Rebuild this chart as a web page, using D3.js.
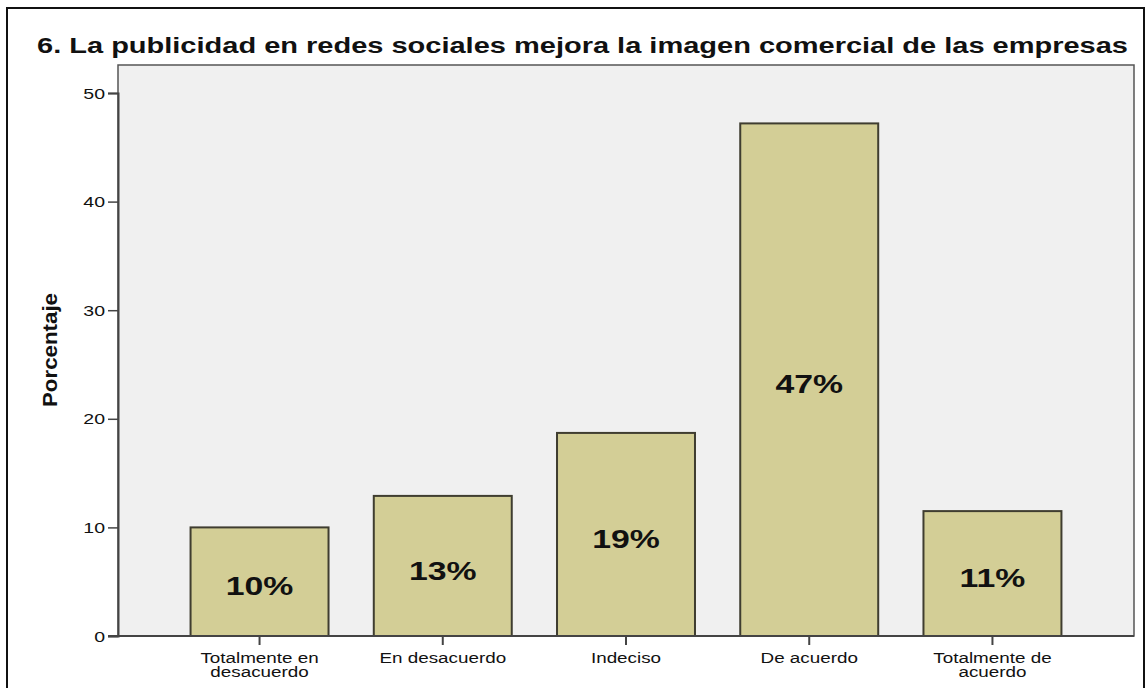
<!DOCTYPE html>
<html>
<head>
<meta charset="utf-8">
<script src="https://cdn.jsdelivr.net/npm/d3@7"></script>
<style>
  html, body { margin: 0; padding: 0; background: #ffffff; }
  svg { display: block; }
  text { font-family: "Liberation Sans", Arial, sans-serif; fill: #111; }
</style>
</head>
<body>
<script>
// Survey responses, percentage per answer
const categories = [
  ["Totalmente en", "desacuerdo"],
  ["En desacuerdo"],
  ["Indeciso"],
  ["De acuerdo"],
  ["Totalmente de", "acuerdo"]
];
const percentages = [10.0, 12.9, 18.7, 47.2, 11.5];
const valueLabels = ["10%", "13%", "19%", "47%", "11%"];
const yTicks = [0, 10, 20, 30, 40, 50];
const chartTitle = "6. La publicidad en redes sociales mejora la imagen comercial de las empresas";
const yTitle = "Porcentaje";

const W = 1147, H = 688;
const plot = { left: 118, right: 1134, top: 65, bottom: 636 };
const sx = 1.3; // horizontal stretch of the lettering

const svg = d3.select("body").append("svg")
  .attr("width", W).attr("height", H);

// outer frame
svg.append("rect")
  .attr("x", 7).attr("y", 8)
  .attr("width", 1137).attr("height", 690)
  .attr("fill", "#fff").attr("stroke", "#111").attr("stroke-width", 2);

const x = d3.scaleBand()
  .domain(d3.range(categories.length))
  .range([plot.left, plot.right])
  .paddingInner(0.247)
  .paddingOuter(0.396);

const y = d3.scaleLinear()
  .domain([0, 50])
  .range([plot.bottom, plot.bottom - 50 * 10.86]);

// plot background
svg.append("rect")
  .attr("x", plot.left).attr("y", plot.top)
  .attr("width", plot.right - plot.left).attr("height", plot.bottom - plot.top)
  .attr("fill", "#f0f0f0").attr("stroke", "#555").attr("stroke-width", 1.5);

// bars
svg.append("g").selectAll("rect")
  .data(percentages)
  .join("rect")
  .attr("x", (d, i) => x(i))
  .attr("y", d => y(d))
  .attr("width", x.bandwidth())
  .attr("height", d => y(0) - y(d))
  .attr("fill", "#d3ce96")
  .attr("stroke", "#3f3d30")
  .attr("stroke-width", 2);

// value labels inside bars
svg.append("g").selectAll("text")
  .data(percentages)
  .join("text")
  .attr("transform", (d, i) =>
    `translate(${x(i) + x.bandwidth() / 2},${(y(d) + y(0)) / 2 + 4.5}) scale(${sx},1)`)
  .attr("text-anchor", "middle")
  .attr("dominant-baseline", "central")
  .attr("font-size", 26)
  .attr("font-weight", "bold")
  .text((d, i) => valueLabels[i]);

// y axis
const yAxis = svg.append("g")
  .attr("transform", `translate(${plot.left},0)`)
  .call(d3.axisLeft(y).tickValues(yTicks).tickSize(10).tickPadding(3).tickFormat(d3.format("d")));
yAxis.select(".domain").attr("stroke", "#444").attr("stroke-width", 2);
yAxis.selectAll(".tick line").attr("stroke", "#444").attr("stroke-width", 1.5);
yAxis.selectAll(".tick text")
  .attr("font-size", 15)
  .attr("fill", "#222")
  .attr("font-family", "'Liberation Sans', Arial, sans-serif")
  .attr("dy", null)
  .attr("dominant-baseline", "central")
  .attr("transform", function() {
    const xx = +d3.select(this).attr("x");
    return `translate(${xx},0) scale(${sx},1)`;
  })
  .attr("x", 0);

// x axis
const xAxis = svg.append("g")
  .attr("transform", `translate(0,${plot.bottom})`)
  .call(d3.axisBottom(x).tickSize(9).tickFormat(""));
xAxis.select(".domain").attr("stroke", "#444").attr("stroke-width", 2)
  .attr("d", `M${plot.left - 10},0H${plot.right}`);
xAxis.selectAll(".tick line").attr("stroke", "#444").attr("stroke-width", 2);

// category labels, one or two lines each
const catG = svg.append("g").selectAll("g")
  .data(categories)
  .join("g")
  .attr("transform", (d, i) => `translate(${x(i) + x.bandwidth() / 2},663) scale(${sx},1)`);
catG.selectAll("text")
  .data(d => d)
  .join("text")
  .attr("y", (d, j) => j * 14.5)
  .attr("text-anchor", "middle")
  .attr("font-size", 14.5)
  .attr("fill", "#222")
  .text(d => d);

// axis title
svg.append("text")
  .attr("transform", "translate(57,350) rotate(-90)")
  .attr("text-anchor", "middle")
  .attr("font-size", 20)
  .attr("font-weight", "bold")
  .attr("textLength", 114)
  .attr("lengthAdjust", "spacingAndGlyphs")
  .text(yTitle);

// chart title
svg.append("text")
  .attr("x", 37).attr("y", 53)
  .attr("font-size", 22)
  .attr("font-weight", "bold")
  .attr("textLength", 1091)
  .attr("lengthAdjust", "spacingAndGlyphs")
  .text(chartTitle);
</script>
</body>
</html>
